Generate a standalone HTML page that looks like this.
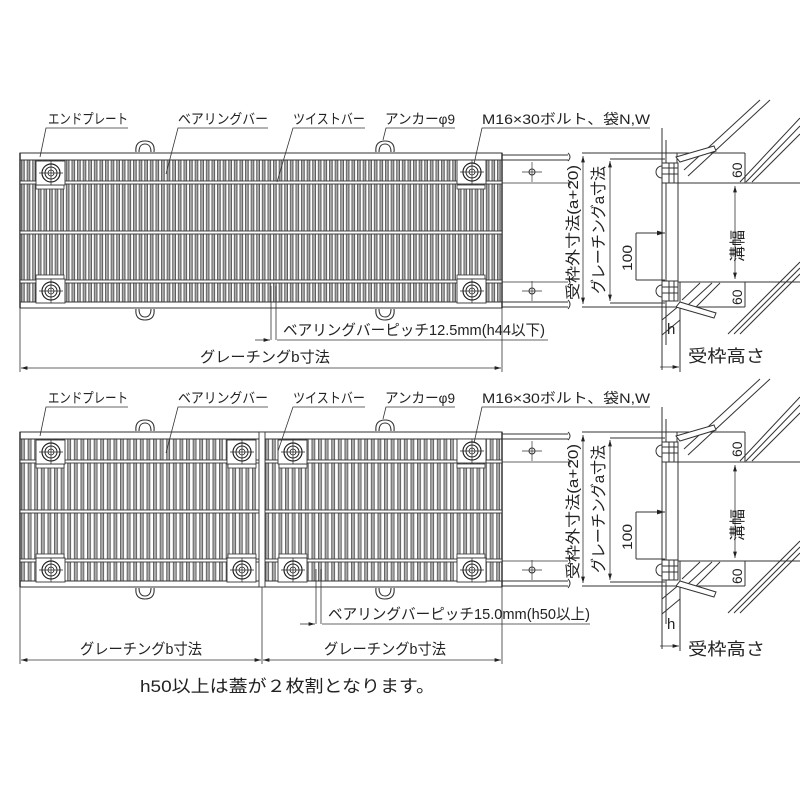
<!DOCTYPE html>
<html><head><meta charset="utf-8"><style>
html,body{margin:0;padding:0;background:#fff;width:800px;height:800px;overflow:hidden}
svg{display:block}
text{font-family:"Liberation Sans","Noto Sans CJK JP",sans-serif;fill:#222}
</style></head><body>
<svg width="800" height="800" viewBox="0 0 800 800" xmlns="http://www.w3.org/2000/svg">
<defs>
<pattern id="barsA" x="21" y="0" width="5.6" height="10" patternUnits="userSpaceOnUse">
<rect x="0" y="0" width="5.6" height="10" fill="#fff"/>
<line x1="0.6" y1="0" x2="0.6" y2="10" stroke="#444" stroke-width="0.9"/>
<line x1="3.2" y1="0" x2="3.2" y2="10" stroke="#444" stroke-width="0.9"/>
<rect x="1" y="0" width="1.8" height="10" fill="#aaa"/>
</pattern>
<pattern id="barsB" x="21" y="0" width="6.6" height="10" patternUnits="userSpaceOnUse">
<rect x="0" y="0" width="6.6" height="10" fill="#fff"/>
<line x1="0.6" y1="0" x2="0.6" y2="10" stroke="#444" stroke-width="0.9"/>
<line x1="3.4" y1="0" x2="3.4" y2="10" stroke="#444" stroke-width="0.9"/>
<rect x="1" y="0" width="2" height="10" fill="#aaa"/>
</pattern>
<marker id="ar" viewBox="0 0 10 6" refX="10" refY="3" markerWidth="8" markerHeight="5" orient="auto-start-reverse">
<path d="M0,0 L10,3 L0,6 z" fill="#222"/>
</marker>
<g id="bolt">
<rect x="-15" y="-12" width="29" height="24" fill="#fff" stroke="#333" stroke-width="0.9"/>
<circle r="9" fill="#fff" stroke="#222" stroke-width="1.2"/>
<circle r="6" fill="none" stroke="#222" stroke-width="1"/>
<circle r="3" fill="none" stroke="#222" stroke-width="0.8"/>
<line x1="-12" y1="0" x2="12" y2="0" stroke="#222" stroke-width="0.7"/>
<line x1="0" y1="-12" x2="0" y2="12" stroke="#222" stroke-width="0.7"/>
</g>
<g id="handleT"><path d="M-9,9 C-10,1 -6,-2 0,-2 C6,-2 10,1 9,9 M-6,9 C-6,3 -3,1 0,1 C3,1 6,3 6,9" fill="none" stroke="#333" stroke-width="1.1"/></g>
<g id="handleB"><path d="M-9,-9 C-10,-1 -6,2 0,2 C6,2 10,-1 9,-9 M-6,-9 C-6,-3 -3,-1 0,-1 C3,-1 6,-3 6,-9" fill="none" stroke="#333" stroke-width="1.1"/></g>
<g id="side" stroke="#333" fill="none" stroke-width="1">
<line x1="502" y1="155" x2="568" y2="155"/><line x1="502" y1="160" x2="568" y2="160"/>
<line x1="502" y1="302" x2="568" y2="302"/><line x1="502" y1="307" x2="568" y2="307"/>
<line x1="502" y1="183" x2="568" y2="183" stroke-width="0.8"/><line x1="502" y1="282" x2="568" y2="282" stroke-width="0.8"/>
<path d="M568,153 q4,4 0,8 M568,180 q4,4 0,6 M568,279 q4,4 0,6 M568,300 q4,4 0,9"/>
<circle cx="532" cy="172" r="3"/><line x1="522" y1="172" x2="542" y2="172" stroke-width="0.7"/><line x1="532" y1="162" x2="532" y2="182" stroke-width="0.7"/>
<circle cx="532" cy="291" r="3"/><line x1="522" y1="291" x2="542" y2="291" stroke-width="0.7"/><line x1="532" y1="281" x2="532" y2="301" stroke-width="0.7"/>
<line x1="582" y1="153" x2="745" y2="153"/><line x1="582" y1="307" x2="745" y2="307"/>
<line x1="583" y1="156" x2="583" y2="304" marker-start="url(#ar)" marker-end="url(#ar)" stroke-width="0.8"/>
<line x1="610" y1="159" x2="665" y2="159"/><line x1="610" y1="303" x2="665" y2="303"/>
<line x1="610" y1="161" x2="610" y2="301" marker-start="url(#ar)" marker-end="url(#ar)" stroke-width="0.8"/>
<line x1="636" y1="233" x2="636" y2="280"/><line x1="636" y1="233" x2="665" y2="233" marker-end="url(#ar)"/><line x1="636" y1="280" x2="665" y2="280"/>
<line x1="662" y1="128" x2="662" y2="370"/><line x1="666" y1="140" x2="666" y2="345"/>
<line x1="678" y1="183" x2="678" y2="282"/>
<line x1="677" y1="153" x2="677" y2="183"/><line x1="745" y1="153" x2="745" y2="183"/>
<line x1="677" y1="183" x2="800" y2="183"/><line x1="677" y1="282" x2="800" y2="282"/>
<line x1="680" y1="282" x2="680" y2="345"/><line x1="745" y1="282" x2="745" y2="307"/>
<line x1="735" y1="186" x2="735" y2="279" marker-start="url(#ar)" marker-end="url(#ar)" stroke-width="0.8"/>
<line x1="684" y1="170" x2="760" y2="100"/><line x1="688" y1="176" x2="770" y2="100"/>
<line x1="740" y1="182" x2="800" y2="118"/><line x1="746" y1="182" x2="800" y2="126"/><line x1="752" y1="182" x2="800" y2="134"/>
<line x1="682" y1="300" x2="700" y2="283"/><line x1="688" y1="305" x2="712" y2="283"/><line x1="696" y1="307" x2="720" y2="283"/>
<line x1="728" y1="334" x2="800" y2="262"/><line x1="734" y1="334" x2="800" y2="268"/><line x1="740" y1="334" x2="800" y2="274"/>
<line x1="662" y1="320" x2="680" y2="305"/><line x1="662" y1="335" x2="680" y2="320"/>
<path d="M676,157 L714,146 L716,151 L680,162 z" fill="#fff"/>
<path d="M676,307 L714,318 L716,313 L680,302 z" fill="#fff"/>
<rect x="662" y="163" width="16" height="20" fill="#fff"/><line x1="662" y1="168" x2="678" y2="168"/><line x1="662" y1="174" x2="678" y2="174"/><line x1="669" y1="163" x2="669" y2="183"/><line x1="674" y1="163" x2="674" y2="183"/>
<path d="M662,166 a6,6 0 0 0 0,12"/>
<rect x="662" y="281" width="16" height="20" fill="#fff"/><line x1="662" y1="287" x2="678" y2="287"/><line x1="662" y1="293" x2="678" y2="293"/><line x1="669" y1="281" x2="669" y2="301"/><line x1="674" y1="281" x2="674" y2="301"/>
<path d="M662,285 a6,6 0 0 0 0,12"/>
<line x1="660" y1="367" x2="679" y2="367" marker-end="url(#ar)" stroke-width="0.8"/>
<line x1="680" y1="345" x2="680" y2="372"/>
</g>
<g id="labels" font-size="14">
<text x="48" y="124" textLength="80" lengthAdjust="spacingAndGlyphs">エンドプレート</text>
<text x="178" y="124" textLength="90" lengthAdjust="spacingAndGlyphs">ベアリングバー</text>
<text x="293" y="124" textLength="72" lengthAdjust="spacingAndGlyphs">ツイストバー</text>
<text x="385" y="124" textLength="70" lengthAdjust="spacingAndGlyphs">アンカーφ9</text>
<text x="482" y="124" textLength="168" lengthAdjust="spacingAndGlyphs">M16×30ボルト、袋N,W</text>
<text transform="translate(578,300) rotate(-90)" font-size="15" textLength="135" lengthAdjust="spacingAndGlyphs">受枠外寸法(a+20)</text>
<text transform="translate(604,294) rotate(-90)" font-size="16" textLength="128" lengthAdjust="spacingAndGlyphs">グレーチングa寸法</text>
<text transform="translate(632,271) rotate(-90)" font-size="14" textLength="26" lengthAdjust="spacingAndGlyphs">100</text>
<text transform="translate(742,178) rotate(-90)" font-size="14">60</text>
<text transform="translate(742,305) rotate(-90)" font-size="14">60</text>
<text transform="translate(743,262) rotate(-90)" font-size="16" textLength="32" lengthAdjust="spacingAndGlyphs">溝幅</text>
</g>
</defs>

<!-- TOP -->
<g>
<rect x="20" y="160" width="482" height="142" fill="url(#barsA)"/>
<rect x="20" y="153" width="482" height="7" fill="#fff" stroke="#333"/>
<rect x="20" y="302" width="482" height="6" fill="#fff" stroke="#333"/>
<line x1="20" y1="153" x2="20" y2="308" stroke="#333" stroke-width="1.5"/>
<line x1="502" y1="153" x2="502" y2="308" stroke="#333" stroke-width="1.5"/>
<g stroke="#333" stroke-width="0.9" fill="#fff">
<rect x="20" y="181" width="482" height="3"/><rect x="20" y="231" width="482" height="3"/><rect x="20" y="280" width="482" height="3"/>
</g>
<g fill="#fff" stroke="#333" stroke-width="0.8">
<rect x="36" y="185" width="28" height="4"/><rect x="457" y="185" width="28" height="4"/>
<rect x="36" y="275" width="28" height="4"/><rect x="457" y="275" width="28" height="4"/>
</g>
<use href="#bolt" x="51" y="173"/><use href="#bolt" x="472" y="172"/>
<use href="#bolt" x="51" y="291"/><use href="#bolt" x="472" y="291"/>
<use href="#handleT" x="145" y="143"/><use href="#handleT" x="385" y="143"/>
<use href="#handleB" x="145" y="318"/><use href="#handleB" x="385" y="318"/>
<use href="#side"/>
<use href="#labels"/>
<g stroke="#333" stroke-width="0.8" fill="none">
<polyline points="128,128 46,128 40,157"/>
<polyline points="268,128 178,128 166,174"/>
<polyline points="365,128 293,128 277,182"/>
<polyline points="455,128 386,128 383,140"/>
<polyline points="650,128 482,128 474,164"/>
<line x1="271" y1="286" x2="271" y2="340"/><line x1="276" y1="286" x2="276" y2="340"/>
<line x1="255" y1="340" x2="270" y2="340" marker-end="url(#ar)"/>
<polyline points="277,340 548,340"/>
<line x1="20" y1="308" x2="20" y2="372"/><line x1="502" y1="308" x2="502" y2="372"/>
<line x1="21" y1="368" x2="501" y2="368" marker-start="url(#ar)" marker-end="url(#ar)"/>
</g>
<text x="283" y="335" font-size="15" textLength="262" lengthAdjust="spacingAndGlyphs">ベアリングバーピッチ12.5mm(h44以下)</text>
<text x="200" y="362" font-size="15" textLength="130" lengthAdjust="spacingAndGlyphs">グレーチングb寸法</text>
<text x="667" y="334" font-size="15">h</text>
<text x="688" y="362" font-size="17" textLength="77" lengthAdjust="spacingAndGlyphs">受枠高さ</text>
</g>

<!-- BOTTOM -->
<g transform="translate(0,279)">
<rect x="20" y="160" width="482" height="142" fill="url(#barsB)"/>
<rect x="20" y="153" width="482" height="7" fill="#fff" stroke="#333"/>
<rect x="20" y="302" width="482" height="6" fill="#fff" stroke="#333"/>
<line x1="20" y1="153" x2="20" y2="308" stroke="#333" stroke-width="1.5"/>
<line x1="502" y1="153" x2="502" y2="308" stroke="#333" stroke-width="1.5"/>
<g stroke="#333" stroke-width="0.9" fill="#fff">
<rect x="20" y="181" width="482" height="3"/><rect x="20" y="231" width="482" height="3"/><rect x="20" y="280" width="482" height="3"/>
</g>
<rect x="259" y="153" width="6" height="155" fill="#fff" stroke="#333" stroke-width="0.9"/>
<g fill="#fff" stroke="#333" stroke-width="0.8">
<rect x="36" y="185" width="28" height="4"/><rect x="228" y="185" width="28" height="4"/><rect x="279" y="185" width="28" height="4"/><rect x="457" y="185" width="28" height="4"/>
<rect x="36" y="275" width="28" height="4"/><rect x="228" y="275" width="28" height="4"/><rect x="279" y="275" width="28" height="4"/><rect x="457" y="275" width="28" height="4"/>
</g>
<use href="#bolt" x="51" y="173"/><use href="#bolt" x="242" y="173"/><use href="#bolt" x="293" y="173"/><use href="#bolt" x="472" y="172"/>
<use href="#bolt" x="51" y="291"/><use href="#bolt" x="242" y="291"/><use href="#bolt" x="293" y="291"/><use href="#bolt" x="472" y="291"/>
<use href="#handleT" x="145" y="143"/><use href="#handleT" x="385" y="143"/>
<use href="#handleB" x="145" y="318"/><use href="#handleB" x="385" y="318"/>
<use href="#side"/>
<use href="#labels"/>
<g stroke="#333" stroke-width="0.8" fill="none">
<polyline points="128,128 46,128 40,157"/>
<polyline points="268,128 178,128 166,174"/>
<polyline points="365,128 293,128 278,172"/>
<polyline points="455,128 386,128 383,140"/>
<polyline points="650,128 482,128 474,164"/>
<line x1="316" y1="290" x2="316" y2="345"/><line x1="321" y1="290" x2="321" y2="345"/>
<line x1="300" y1="345" x2="315" y2="345" marker-end="url(#ar)"/>
<polyline points="322,345 590,345"/>
<line x1="20" y1="308" x2="20" y2="385"/><line x1="262" y1="308" x2="262" y2="385"/><line x1="502" y1="308" x2="502" y2="385"/>
<line x1="21" y1="381" x2="261" y2="381" marker-start="url(#ar)" marker-end="url(#ar)"/>
<line x1="263" y1="381" x2="501" y2="381" marker-start="url(#ar)" marker-end="url(#ar)"/>
</g>
<text x="328" y="340" font-size="15" textLength="262" lengthAdjust="spacingAndGlyphs">ベアリングバーピッチ15.0mm(h50以上)</text>
<text x="80" y="375" font-size="15" textLength="122" lengthAdjust="spacingAndGlyphs">グレーチングb寸法</text>
<text x="324" y="375" font-size="15" textLength="122" lengthAdjust="spacingAndGlyphs">グレーチングb寸法</text>
<text x="667" y="350" font-size="15">h</text>
<text x="688" y="376" font-size="17" textLength="77" lengthAdjust="spacingAndGlyphs">受枠高さ</text>
</g>
<text x="140" y="692" font-size="17" textLength="295" lengthAdjust="spacingAndGlyphs">h50以上は蓋が２枚割となります。</text>
</svg>
</body></html>
